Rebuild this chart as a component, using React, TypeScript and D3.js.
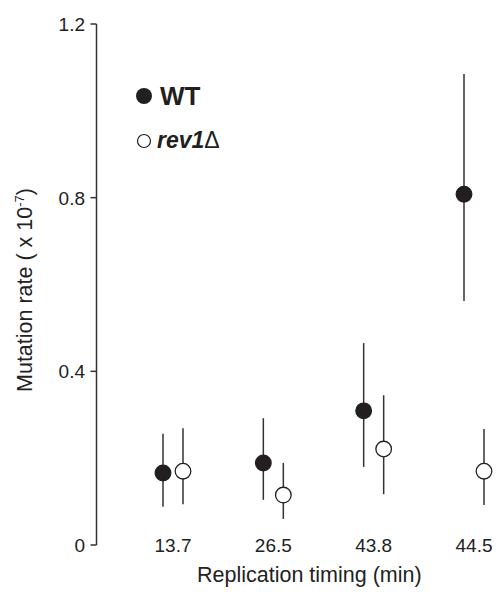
import React from "react";
import * as d3 from "d3";

const categories = ["13.7", "26.5", "43.8", "44.5"];
const wtMean = [0.166, 0.189, 0.309, 0.808];
const wtLow = [0.088, 0.104, 0.18, 0.562];
const wtHigh = [0.256, 0.292, 0.465, 1.085];
const rev1Mean = [0.17, 0.115, 0.221, 0.17];
const rev1Low = [0.094, 0.06, 0.117, 0.092];
const rev1High = [0.269, 0.189, 0.345, 0.267];
const yTicks = [0, 0.4, 0.8, 1.2];
const yTickLabels = ["0", "0.4", "0.8", "1.2"];

const W = 498;
const H = 599;
const FONT = "Liberation Sans, Arial, Helvetica, sans-serif";

export default function App() {
  const x = d3.scalePoint<string>().domain(categories).range([173, 474]);
  const y = d3.scaleLinear().domain([0, 1.2]).range([545, 24]);
  const axisX = 96.5;
  const off = 10;
  const ink = "#231f20";
  const axisColor = "#333";

  const series = [
    { mean: wtMean, low: wtLow, high: wtHigh, dx: -off, fill: ink },
    { mean: rev1Mean, low: rev1Low, high: rev1High, dx: off, fill: "#fff" },
  ];

  return (
    <svg
      width={W}
      height={H}
      style={{ position: "absolute", left: 0, top: 0, background: "#fff" }}
      fontFamily={FONT}
    >
      {/* y axis */}
      <line x1={axisX} x2={axisX} y1={y(1.2)} y2={y(0)} stroke={axisColor} strokeWidth={1.5} />
      {yTicks.map((t, i) => (
        <g key={t}>
          <line x1={axisX - 6} x2={axisX} y1={y(t)} y2={y(t)} stroke={axisColor} strokeWidth={1.5} />
          <text x={85} y={y(t)} dy="0.36em" textAnchor="end" fontSize={19} fill="#222">
            {yTickLabels[i]}
          </text>
        </g>
      ))}
      {/* x labels */}
      {categories.map((c) => (
        <text key={c} x={x(c)!} y={552} textAnchor="middle" fontSize={19} fill="#222">
          {c}
        </text>
      ))}
      {/* series */}
      {series.map((s, si) => (
        <g key={si}>
          {categories.map((c, i) => {
            const cx = x(c)! + s.dx;
            return (
              <g key={c}>
                <line x1={cx} x2={cx} y1={y(s.high[i])} y2={y(s.low[i])} stroke={axisColor} strokeWidth={1.5} />
                <circle cx={cx} cy={y(s.mean[i])} r={7.8} fill={s.fill} stroke={ink} strokeWidth={1.3} />
              </g>
            );
          })}
        </g>
      ))}
      {/* legend */}
      <circle cx={144} cy={96} r={8} fill={ink} />
      <text x={160} y={105} fontSize={26} fontWeight="bold" fill={ink}>
        WT
      </text>
      <circle cx={144} cy={141} r={6.5} fill="#fff" stroke={ink} strokeWidth={1.2} />
      <text x={157} y={148} fontSize={23} fill={ink}>
        <tspan fontWeight="bold" fontStyle="italic">rev1</tspan>
        <tspan>Δ</tspan>
      </text>
      {/* axis titles */}
      <text x={197} y={582} textAnchor="start" fontSize={21.5} fill="#222">
        Replication timing (min)
      </text>
      <text
        transform={`translate(32, ${290}) rotate(-90)`}
        textAnchor="middle"
        fontSize={21.5}
        fill="#222"
      >
        Mutation rate ( x 10
        <tspan fontSize={13} dy={-8}>-7</tspan>
        <tspan dy={8}>)</tspan>
      </text>
    </svg>
  );
}
